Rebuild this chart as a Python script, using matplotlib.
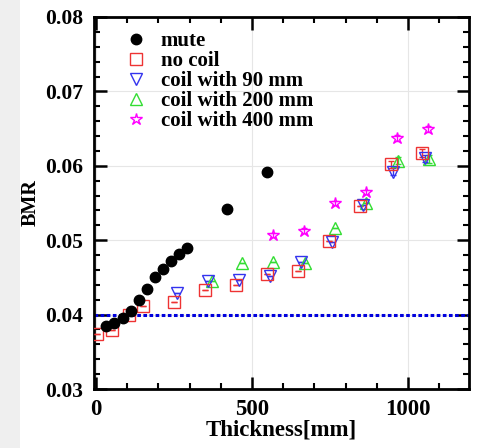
import matplotlib
matplotlib.use("Agg")
import matplotlib.pyplot as plt
from matplotlib.ticker import MultipleLocator, FixedLocator
from matplotlib.patches import Rectangle

# Data
mute_x = [34, 59, 86, 111, 137, 163, 189, 215, 240, 266, 293, 421, 549]
mute_y = [0.0385, 0.0389, 0.0396, 0.0405, 0.0419, 0.0434, 0.0450, 0.0461,
          0.0472, 0.0482, 0.0490, 0.0542, 0.0591]

nocoil_x = [4, 52, 106, 152, 251, 350, 450, 549, 648, 748, 847, 946, 1044]
nocoil_y = [0.0374, 0.0379, 0.0400, 0.0412, 0.0417, 0.0433, 0.0440, 0.0454,
            0.0458, 0.0499, 0.0546, 0.0602, 0.0617]
nocoil_e = [0, 0, 0, 0, 0, 0, 0, 0, 0, 0, 0, 0.0005, 0.0005]

c90_x = [261, 360, 459, 558, 657, 755, 855, 953, 1054]
c90_y = [0.0429, 0.0445, 0.0447, 0.0452, 0.0471, 0.0498, 0.0547, 0.0592, 0.0610]
c90_e = [0, 0, 0, 0, 0, 0, 0, 0.0005, 0.0005]

c200_x = [371, 467, 566, 670, 766, 864, 969, 1067]
c200_y = [0.0445, 0.0470, 0.0471, 0.0469, 0.0516, 0.0550, 0.0607, 0.0609]
c200_e = [0, 0, 0, 0, 0, 0, 0.0005, 0.0005]

c400_x = [566, 667, 766, 865, 966, 1065]
c400_y = [0.0507, 0.0513, 0.0550, 0.0565, 0.0638, 0.0650]
c400_e = [0.0003, 0.0003, 0.0003, 0.0003, 0.0004, 0.0004]

ref_level = 0.04

xticks = [0, 500, 1000]
xticklabels = ["0", "500", "1000"]
yticks = [0.03, 0.04, 0.05, 0.06, 0.07, 0.08]
yticklabels = ["0.03", "0.04", "0.05", "0.06", "0.07", "0.08"]

serif = ["Liberation Serif", "DejaVu Serif"]
plt.rcParams["font.family"] = serif
plt.rcParams["font.weight"] = "bold"

fig = plt.figure(figsize=(4.87, 4.48), dpi=100)
fig.patches.append(Rectangle((0, 0), 20 / 487, 1, transform=fig.transFigure,
                             facecolor="#efefef", edgecolor="none", zorder=0))
ax = fig.add_axes([94 / 487, 59 / 448, 375 / 487, 372 / 448])

ax.grid(True, which="major", color="#e6e6e6", linewidth=0.8)
ax.set_axisbelow(True)

ax.axhline(ref_level, color="#0000dd", linewidth=2.2, linestyle=(0, (1.2, 0.8)), zorder=2)

ms = 7
e400 = ax.errorbar(c400_x, c400_y, yerr=c400_e, fmt="*", mfc="none", mec="#ff00ff",
                   ecolor="#ff00ff", ms=ms + 2, mew=1.0, capsize=2.5, elinewidth=1.0,
                   zorder=3)
e200 = ax.errorbar(c200_x, c200_y, yerr=c200_e, fmt="^", mfc="none", mec="#33dd33",
                   ecolor="#33dd33", ms=ms + 1, mew=1.0, capsize=2.5, elinewidth=1.0,
                   zorder=3)
e90 = ax.errorbar(c90_x, c90_y, yerr=c90_e, fmt="v", mfc="none", mec="#3333ee",
                  ecolor="#3333ee", ms=ms + 1, mew=1.0, capsize=2.5, elinewidth=1.0,
                  zorder=3)
enc = ax.errorbar(nocoil_x, nocoil_y, yerr=nocoil_e, fmt="s", mfc="none", mec="#ee3333",
                  ecolor="#ee3333", ms=ms + 1, mew=1.0, capsize=2.5, elinewidth=1.0,
                  zorder=3)
lm, = ax.plot(mute_x, mute_y, "o", color="black", ms=ms + 0.5, zorder=4)

ax.set_xlim(-6, 1195)
ax.set_ylim(0.03, 0.08)
ax.xaxis.set_major_locator(FixedLocator(xticks))
ax.set_xticklabels(xticklabels)
ax.xaxis.set_minor_locator(MultipleLocator(100))
ax.yaxis.set_major_locator(FixedLocator(yticks))
ax.set_yticklabels(yticklabels)
ax.yaxis.set_minor_locator(MultipleLocator(0.002))

ax.tick_params(which="both", direction="in", top=True, right=True)
ax.tick_params(axis="y", which="major", labelsize=15.5, pad=8)
ax.tick_params(axis="x", which="major", labelsize=16.5, pad=7)
ax.tick_params(which="major", length=9, width=1.8)
ax.tick_params(which="minor", length=4.5, width=1.5)
for lab in ax.get_xticklabels() + ax.get_yticklabels():
    lab.set_fontweight("bold")
for s in ax.spines.values():
    s.set_linewidth(2)

ax.set_xlabel("Thickness[mm]", fontsize=16.5, fontweight="bold", labelpad=0)
ax.set_ylabel("BMR", fontsize=14.5, fontweight="bold", labelpad=3)

handles = [lm, enc[0], e90[0], e200[0], e400[0]]
labels = ["mute", "no coil", "coil with 90 mm", "coil with 200 mm", "coil with 400 mm"]
ax.legend(handles, labels, loc="upper left",
          frameon=False, prop={"family": serif, "weight": "bold", "size": 15},
          handletextpad=0.7, labelspacing=0.0, borderaxespad=0.2,
          bbox_to_anchor=(0.05, 0.995), handlelength=1.0)

fig.savefig("out.png", dpi=100)
